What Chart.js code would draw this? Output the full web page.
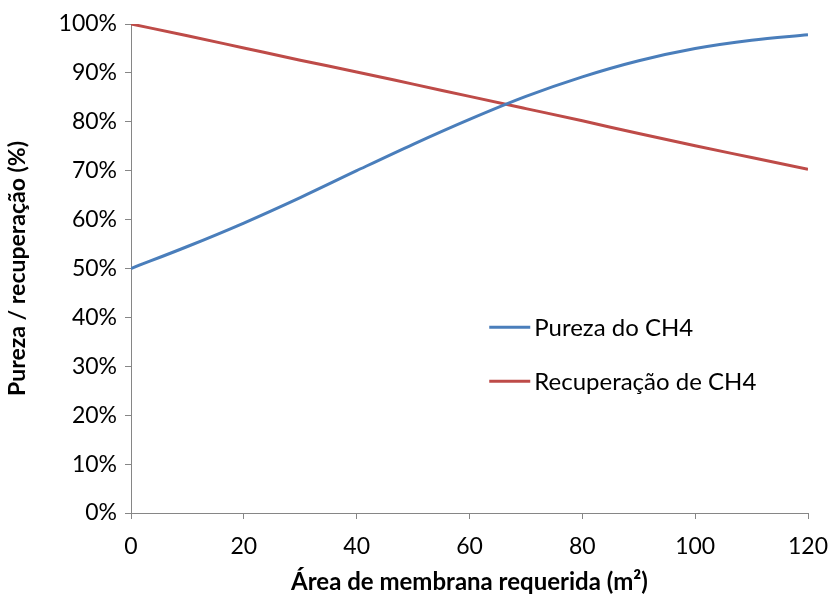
<!DOCTYPE html>
<html lang="pt">
<head>
  <meta charset="UTF-8" />
  <title>Pureza / recuperação</title>
  <script src="https://cdn.jsdelivr.net/npm/chart.js"></script>
  <style>
    * { box-sizing: border-box; }
    body { margin: 0; background: #fff; }
    .wrap { width: 832px; height: 601px; position: relative; }
  </style>
</head>
<body>
  <div class="wrap"><canvas id="chart"></canvas></div>
  <script>
    // data
    const areaPts = [0, 10, 20, 30, 40, 50, 60, 70, 80, 90, 100, 110, 120];
    const pureza = [50, 54.5, 59.3, 64.5, 70, 75.4, 80.5, 85.2, 89.2, 92.5, 95, 96.7, 97.8];
    const recuperacao = [100, 97.6, 95.1, 92.6, 90.2, 87.7, 85.2, 82.7, 80.2, 77.6, 75.1, 72.7, 70.3];
    const seriesNames = ['Pureza do CH4', 'Recuperação de CH4'];
    const seriesColors = ['#4A7EBB', '#BE4B48'];

    const axisGray = '#868686';
    const fontFam = 'Lato, "Open Sans", sans-serif';

    // legend drawn inside the plot, like the original
    const insideLegend = {
      id: 'insideLegend',
      afterDraw(chart) {
        const ctx = chart.ctx;
        const x = chart.scales.x.getPixelForValue(63.5);
        const y0 = chart.scales.y.getPixelForValue(38);
        ctx.save();
        ctx.font = '24px ' + fontFam;
        ctx.textBaseline = 'middle';
        chart.data.datasets.forEach((ds, i) => {
          const y = y0 + i * 54;
          ctx.strokeStyle = ds.borderColor;
          ctx.lineWidth = 3;
          ctx.beginPath();
          ctx.moveTo(x, y);
          ctx.lineTo(x + 41, y);
          ctx.stroke();
          ctx.fillStyle = '#000';
          ctx.fillText(ds.label, x + 45, y + 1);
        });
        ctx.restore();
      }
    };

    new Chart(document.getElementById('chart'), {
      type: 'line',
      data: {
        datasets: [
          { label: seriesNames[0], data: areaPts.map((a, i) => ({ x: a, y: pureza[i] })), borderColor: seriesColors[0] },
          { label: seriesNames[1], data: areaPts.map((a, i) => ({ x: a, y: recuperacao[i] })), borderColor: seriesColors[1] }
        ]
      },
      options: {
        responsive: true,
        maintainAspectRatio: false,
        animation: false,
        layout: { padding: { top: 24, right: 24 } },
        elements: {
          line: { borderWidth: 3, tension: 0.4, cubicInterpolationMode: 'monotone' },
          point: { radius: 0 }
        },
        plugins: {
          legend: { display: false },
          tooltip: { enabled: false }
        },
        scales: {
          x: {
            type: 'linear',
            min: 0, max: 120,
            afterFit: s => { s.height = 88; s.paddingLeft = 0; s.paddingRight = 0; },
            ticks: { stepSize: 20, color: '#000', font: { family: fontFam, size: 23 }, padding: 14 },
            grid: { drawOnChartArea: false, color: axisGray, tickLength: 6 },
            border: { color: axisGray },
            title: { display: true, text: 'Área de membrana requerida (m²)', color: '#000', font: { family: fontFam, size: 24, weight: 'bold' }, padding: { top: 0 } }
          },
          y: {
            min: 0, max: 100,
            afterFit: s => { s.width = 131; s.paddingTop = 0; s.paddingBottom = 0; },
            ticks: { stepSize: 10, color: '#000', font: { family: fontFam, size: 23 }, padding: 8, callback: v => v + '%' },
            grid: { drawOnChartArea: false, color: axisGray, tickLength: 6 },
            border: { color: axisGray },
            title: { display: true, text: 'Pureza / recuperação (%)', color: '#000', font: { family: fontFam, size: 23, weight: 'bold' }, padding: { top: 4, bottom: 0 } }
          }
        }
      },
      plugins: [insideLegend]
    });
  </script>
</body>
</html>
